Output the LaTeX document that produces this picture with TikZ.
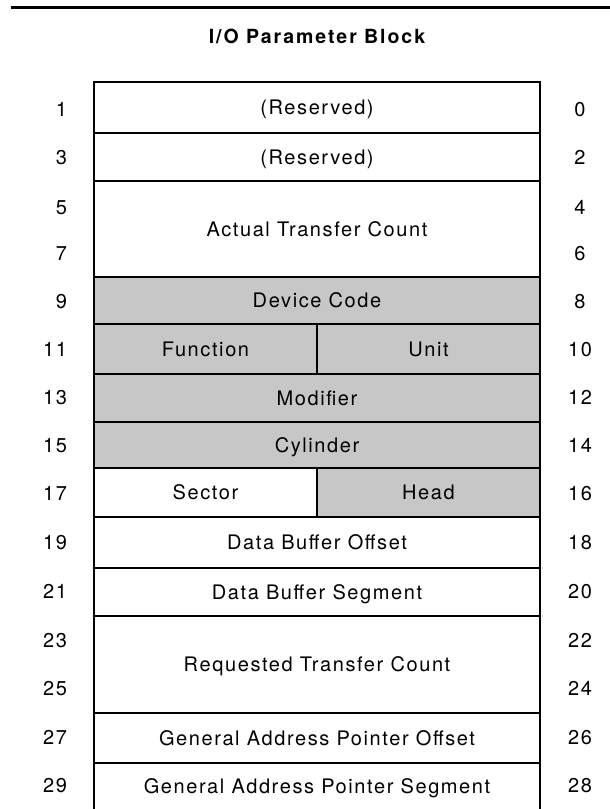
\documentclass[tikz,border=0pt]{standalone}
\usepackage{fontspec}
\setmainfont{TeX Gyre Heros}[LetterSpace=8]
\usetikzlibrary{positioning}

\begin{document}
\begin{tikzpicture}[
x=1pt, y=-1pt,
every node/.style={inner sep=0, outer sep=0, text height=14pt, text depth=0pt, font=\fontsize{20}{23}\selectfont},
cell/.style={draw=black, line width=1.7pt, minimum width=446pt},
shaded/.style={cell, fill=black!22},
halfcell/.style={minimum width=223pt},
bare/.style={minimum width=446pt},
every path/.style={line width=1.7pt}
]
\useasboundingbox (0,0) rectangle (610,809);
\coordinate (ruleL) at (11,7);
\coordinate (ruleR) at (610,7);
\draw[line width=3pt] (ruleL) -- (ruleR);
\node[font=\bfseries\fontsize{19.5}{22}\selectfont\addfontfeature{LetterSpace=10}] (title) at (317,36) {I/O Parameter Block};

% the block, row by row
\node[cell, minimum height=51pt, anchor=north west] (r1) at (94,82) {(Reserved)};
\node[cell, minimum height=48pt, below right=0pt of r1.south west] (r2) {(Reserved)};
\node[cell, minimum height=96pt, below right=0pt of r2.south west] (r3) {Actual Transfer Count};
\node[shaded, minimum height=47pt, below right=0pt of r3.south west] (r4) {Device Code};
\node[shaded, halfcell, minimum height=50pt, below right=0pt of r4.south west] (fn) {Function};
\node[shaded, halfcell, minimum height=50pt, right=0pt of fn] (unit) {Unit};
\node[shaded, minimum height=48pt, below right=0pt of fn.south west] (r6) {Modifier};
\node[shaded, minimum height=46pt, below right=0pt of r6.south west] (r7) {Cylinder};
\node[cell, halfcell, minimum height=49pt, below right=0pt of r7.south west] (sec) {Sector};
\node[shaded, halfcell, minimum height=49pt, right=0pt of sec] (head) {Head};
\node[cell, minimum height=51pt, below right=0pt of sec.south west] (r9) {Data Buffer Offset};
\node[cell, minimum height=48pt, below right=0pt of r9.south west] (r10) {Data Buffer Segment};
\node[cell, minimum height=97pt, below right=0pt of r10.south west] (r11) {Requested Transfer Count};
\node[cell, minimum height=50pt, below right=0pt of r11.south west] (r12) {General Address Pointer Offset};
\node[bare, minimum height=46pt, below right=0pt of r12.south west] (r13) {General Address Pointer Segment};
\draw (r13.north west) -- (r13.south west);
\draw (r13.north east) -- (r13.south east);

% byte offsets
\foreach \odd/\even/\y in {1/0/109, 3/2/157, 5/4/207, 7/6/253, 9/8/301, 11/10/349,
  13/12/397, 15/14/445, 17/16/493, 19/18/542, 21/20/591, 23/22/640, 25/24/688,
  27/26/737, 29/28/785}
{
  \node[anchor=east] (hi\odd) at (67,\y) {\odd};
  \node (lo\even) at (580,\y) {\even};
}
\end{tikzpicture}
\end{document}
